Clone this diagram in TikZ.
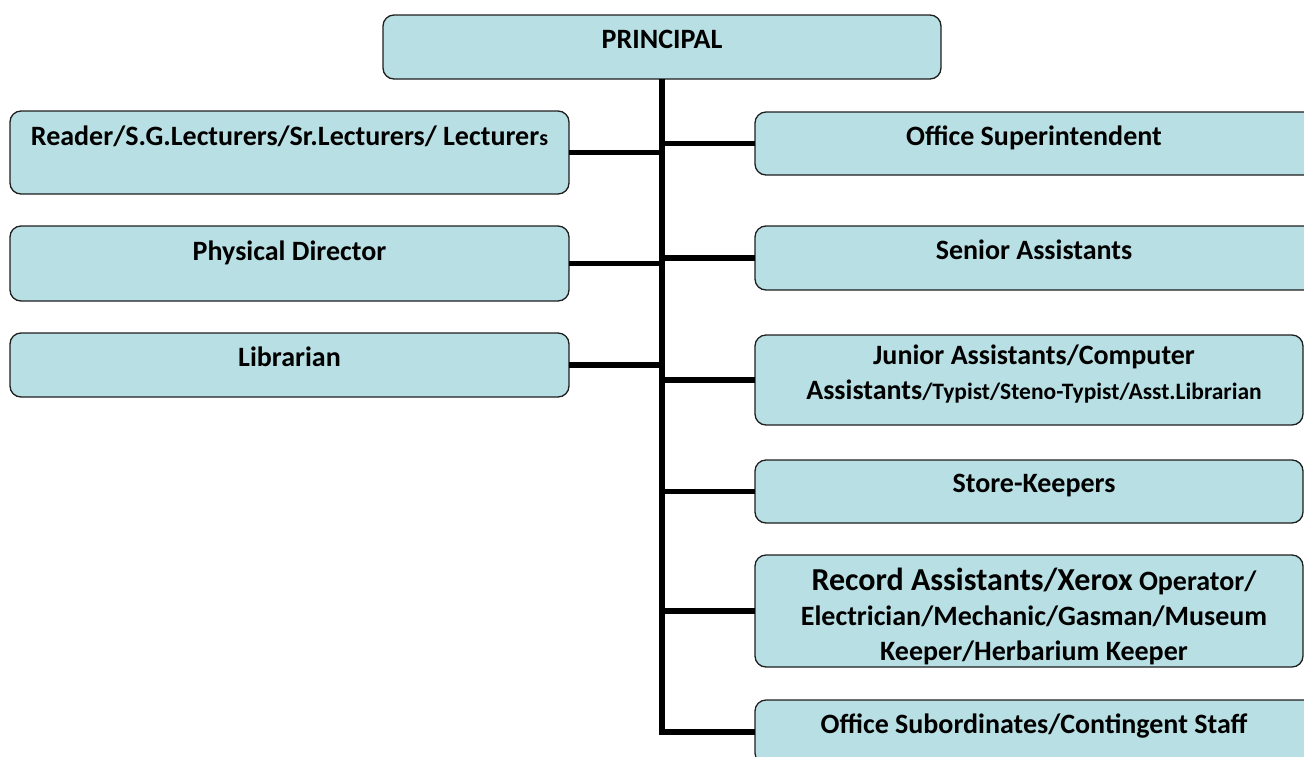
\documentclass[tikz,border=0pt]{standalone}
\usepackage{fontspec}
\setmainfont{Carlito}
\definecolor{boxfill}{RGB}{184,223,227}
\definecolor{boxline}{RGB}{30,30,30}
\begin{document}
\begin{tikzpicture}[x=1pt,y=-1pt,
  box/.style={draw=boxline, line width=1.3pt, fill=boxfill, rounded corners=11pt, inner sep=0pt, outer sep=0pt, anchor=north west},
  txt/.style={anchor=north, inner sep=0pt, align=center, font=\bfseries\fontsize{28}{35}\selectfont},
  link/.style={line width=5.5pt, draw=black}]
\useasboundingbox (0,0) rectangle (1304,756);
\begin{scope}
\clip (0,0) rectangle (1304,756);
\coordinate (rc) at (1034,0);
% boxes
\node[box, minimum width=558pt, minimum height=64pt] (principal) at (383,15) {};
\node[box, minimum width=559pt, minimum height=83pt] (reader) at (10,111) {};
\node[box, minimum width=559pt, minimum height=75pt] (phys) at (10,226) {};
\node[box, minimum width=559pt, minimum height=64pt] (lib) at (10,333) {};
\node[box, minimum width=560pt, minimum height=63pt] (offsup) at (755,112) {};
\node[box, minimum width=560pt, minimum height=64pt] (senior) at (755,226) {};
\node[box, minimum width=548pt, minimum height=90pt] (junior) at (755,335) {};
\node[box, minimum width=548pt, minimum height=63pt] (store) at (755,460) {};
\node[box, minimum width=548pt, minimum height=112pt] (record) at (755,555) {};
\node[box, minimum width=560pt, minimum height=64pt] (sub) at (755,700) {};
% texts
\path (principal.north) ++(0,15) node[txt] (principal-t) {PRINCIPAL};
\path (reader.north) ++(0,15) node[txt] (reader-t) {Reader/S.G.Lecturers/Sr.Lecturers/ Lecturer{\fontsize{22}{35}\selectfont s}};
\path (phys.north) ++(0,15) node[txt] (phys-t) {Physical Director};
\path (lib.north) ++(0,14) node[txt] (lib-t) {Librarian};
\path (offsup.north -| rc) ++(0,14) node[txt] (offsup-t) {Office Superintendent};
\path (senior.north -| rc) ++(0,14) node[txt] (senior-t) {Senior Assistants};
\path (junior.north -| rc) ++(0,10) node[txt] (junior-t) {Junior Assistants/Computer\\Assistants{\fontsize{23.5}{35}\selectfont/Typist/Steno-Typist/Asst.Librarian}};
\path (store.north -| rc) ++(0,14) node[txt] (store-t) {Store-Keepers};
\path (record.north -| rc) ++(0,13) node[txt] (record-t) {{\fontsize{32}{35}\selectfont Record Assistants/Xerox} Operator/\\Electrician/Mechanic/Gasman/Museum\\Keeper/Herbarium Keeper};
\path (sub.north -| rc) ++(0,14) node[txt] (sub-t) {Office Subordinates/Contingent Staff};
% connectors
\draw[link] (principal.south) -- (principal.south |- sub.west) -- (sub.west);
\draw[link] (principal.south |- reader.east) -- (reader.east);
\draw[link] (principal.south |- phys.east) -- (phys.east);
\draw[link] (principal.south |- lib.east) -- (lib.east);
\draw[link] (principal.south |- offsup.west) -- (offsup.west);
\draw[link] (principal.south |- senior.west) -- (senior.west);
\draw[link] (principal.south |- junior.west) -- (junior.west);
\draw[link] (principal.south |- store.west) -- (store.west);
\draw[link] (principal.south |- record.west) -- (record.west);
\end{scope}
\end{tikzpicture}
\end{document}
